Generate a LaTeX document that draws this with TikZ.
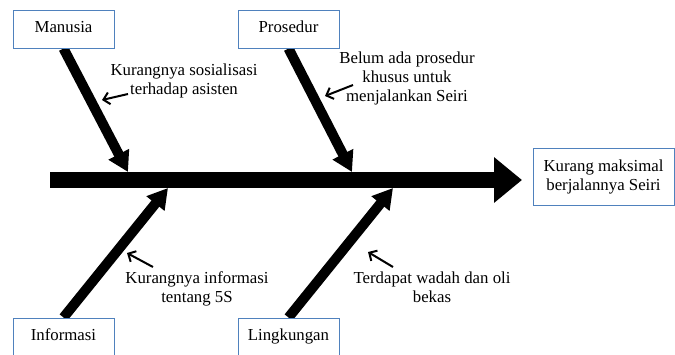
\documentclass[tikz,border=0pt]{standalone}
\usepackage{fontspec}
\setmainfont{Liberation Serif}
\usetikzlibrary{arrows.meta,backgrounds}
\definecolor{boxblue}{RGB}{79,129,189}
\begin{document}
\begin{tikzpicture}[x=1pt,y=-1pt,
  every node/.style={font=\fontsize{16.8}{19}\selectfont},
  catbox/.style={draw=boxblue,line width=1pt,fill=white,minimum width=101pt,minimum height=38pt,inner sep=0pt,text height=11.5pt,text depth=3.6pt},
  resbox/.style={draw=boxblue,line width=1pt,fill=white,minimum width=141pt,minimum height=57pt,inner sep=0pt,align=center},
  lbl/.style={align=center,inner sep=0pt},
  spine/.style={line width=16pt,-{Triangle[width=44pt,length=28pt]}},
  bone/.style={line width=10pt,-{Triangle[width=22pt,length=20pt]}},
  small/.style={line width=2pt,-{Straight Barb[length=6pt,width=12pt]}}]
\useasboundingbox (0,0) rectangle (675,354);
% boxes
\node[catbox] (man) at (63.5,29) {Manusia};
\node[catbox] (pro) at (288.5,29) {Prosedur};
\node[catbox] (inf) at (63.5,337) {Informasi};
\node[catbox] (lin) at (288.5,337) {Lingkungan};
\node[resbox] (res) at (603.5,176.5) {Kurang maksimal\\berjalannya Seiri};
% spine and bone tips
\coordinate (tail) at (50,180);
\coordinate (head) at (522,180);
\coordinate (tman) at (128,172);
\coordinate (tpro) at (352,172);
\coordinate (tinf) at (168,188);
\coordinate (tlin) at (393,188);
\begin{scope}[on background layer]
\draw[spine] (tail) -- (head);
\draw[bone] (man.south) -- (tman);
\draw[bone] (pro.south) -- (tpro);
\draw[bone] (inf.north) -- (tinf);
\draw[bone] (lin.north) -- (tlin);
\end{scope}
% cause labels
\node[lbl] (c1) at (184,81) {Kurangnya sosialisasi\\terhadap asisten};
\node[lbl] (c2) at (407,78) {Belum ada prosedur\\khusus untuk\\menjalankan Seiri};
\node[lbl] (c3) at (197,289) {Kurangnya informasi\\tentang 5S};
\node[lbl] (c4) at (432,287.5) {Terdapat wadah dan oli\\bekas};
% small arrows
\coordinate (s1) at (128,94);  \coordinate (e1) at (102,100);
\coordinate (s2) at (353,85);  \coordinate (e2) at (325,96);
\coordinate (s3) at (153,267); \coordinate (e3) at (127,253);
\coordinate (s4) at (393,267); \coordinate (e4) at (368,252);
\draw[small] (s1) -- (e1);
\draw[small] (s2) -- (e2);
\draw[small] (s3) -- (e3);
\draw[small] (s4) -- (e4);
\end{tikzpicture}
\end{document}
